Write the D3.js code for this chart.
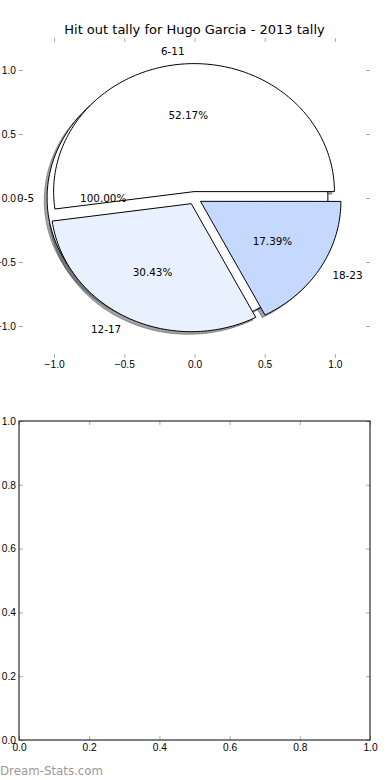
<!DOCTYPE html>
<html>
<head>
<meta charset="utf-8">
<script src="https://cdn.jsdelivr.net/npm/d3@7"></script>
<style>
  body { margin: 0; background: #fff; }
  svg { display: block; font-family: "DejaVu Sans", sans-serif; }
  .tick line { stroke: #aaa; }
  .tick text { font-size: 10.2px; fill: #000; }
</style>
</head>
<body>
<div id="chart"></div>
<script>
const title = "Hit out tally for Hugo Garcia - 2013 tally";
const sliceLabels = ["0-5", "6-11", "12-17", "18-23"];
const slicePcts = [100.0, 52.17, 30.43, 17.39];
const sliceColors = ["#ffffff", "#ffffff", "#eaf1fe", "#c5d8fe"];
const pieTicks = [-1.0, -0.5, 0.0, 0.5, 1.0];
const emptyTicks = [0.0, 0.2, 0.4, 0.6, 0.8, 1.0];

const width = 390;
const height = 780;
const explode = 0.05;

const svg = d3
  .select("#chart")
  .append("svg")
  .attr("width", width)
  .attr("height", height);

// ---- top axes: the pie
const x = d3.scaleLinear().domain([-1.25, 1.25]).range([19, 370]);
const y = d3.scaleLinear().domain([-1.25, 1.25]).range([358, 38]);

svg
  .append("text")
  .attr("x", (19 + 370) / 2)
  .attr("y", 34)
  .attr("text-anchor", "middle")
  .style("font-size", "13px")
  .text(title);

const fmt = d3.format(".1f");
const addAxis = (axis, tx, ty) => {
  const g = svg
    .append("g")
    .attr("transform", `translate(${tx},${ty})`)
    .call(axis);
  g.select(".domain").remove();
  return g;
};
addAxis(d3.axisBottom(x).tickValues(pieTicks).tickFormat(fmt).tickSizeInner(-4).tickSizeOuter(0).tickPadding(3), 0, 358);
addAxis(d3.axisTop(x).tickValues(pieTicks).tickFormat("").tickSizeInner(-4).tickSizeOuter(0), 0, 38);
addAxis(d3.axisLeft(y).tickValues(pieTicks).tickFormat(fmt).tickSizeInner(-4).tickSizeOuter(0).tickPadding(3), 19, 0);
addAxis(d3.axisRight(y).tickValues(pieTicks).tickFormat("").tickSizeInner(-4).tickSizeOuter(0), 370, 0);

const line = d3
  .line()
  .x((d) => x(d[0]))
  .y((d) => y(d[1]));

let cum = 0;
const slices = sliceLabels.map((label, i) => {
  const t1 = cum * 2 * Math.PI;
  cum += slicePcts[i] / 100;
  const t2 = cum * 2 * Math.PI;
  const mid = (t1 + t2) / 2;
  const cx = explode * Math.cos(mid);
  const cy = explode * Math.sin(mid);
  const full = t2 - t1 >= 2 * Math.PI - 1e-9;
  const pts = [];
  const n = Math.max(4, Math.ceil(((t2 - t1) / (2 * Math.PI)) * 240));
  for (let k = 0; k <= n; k++) {
    const t = t1 + ((t2 - t1) * k) / n;
    pts.push([cx + Math.cos(t), cy + Math.sin(t)]);
  }
  if (!full) {
    pts.unshift([cx, cy]);
  }
  return { label, pct: slicePcts[i], color: sliceColors[i], mid, cx, cy, pts };
});

// shadows go under every wedge
const shadowRgb = (c) => {
  const r = d3.rgb(c);
  return `rgba(${Math.round(r.r * 0.3)},${Math.round(r.g * 0.3)},${Math.round(r.b * 0.3)},0.5)`;
};
svg
  .append("g")
  .selectAll("path")
  .data(slices)
  .join("path")
  .attr("d", (d) => line(d.pts.map((p) => [p[0] - 0.02, p[1] - 0.02])) + "Z")
  .attr("fill", (d) => shadowRgb(d.color))
  .attr("stroke", (d) => shadowRgb(d.color))
  .attr("stroke-width", 1);

svg
  .append("g")
  .selectAll("path")
  .data(slices)
  .join("path")
  .attr("d", (d) => line(d.pts) + "Z")
  .attr("fill", (d) => d.color)
  .attr("stroke", "#000")
  .attr("stroke-width", 1)
  .attr("stroke-linejoin", "miter");

const texts = svg.append("g").style("font-size", "10.4px");
slices.forEach((d) => {
  const lx = d.cx + 1.1 * Math.cos(d.mid);
  const ly = d.cy + 1.1 * Math.sin(d.mid);
  texts
    .append("text")
    .attr("x", x(lx) + (lx < 0 ? 1 : 0))
    .attr("y", y(ly))
    .attr("dy", "0.4em")
    .attr("text-anchor", lx < 0 ? "end" : "start")
    .text(d.label);
  texts
    .append("text")
    .attr("x", x(d.cx + 0.6 * Math.cos(d.mid)))
    .attr("y", y(d.cy + 0.6 * Math.sin(d.mid)))
    .attr("dy", "0.4em")
    .attr("text-anchor", "middle")
    .text(d.pct.toFixed(2) + "%");
});

// ---- bottom axes: empty
const x2 = d3.scaleLinear().domain([0, 1]).range([19, 370]);
const y2 = d3.scaleLinear().domain([0, 1]).range([740, 421]);

addAxis(d3.axisBottom(x2).tickValues(emptyTicks).tickFormat(fmt).tickSizeInner(-4).tickSizeOuter(0).tickPadding(4), 0, 740);
addAxis(d3.axisTop(x2).tickValues(emptyTicks).tickFormat("").tickSizeInner(-4).tickSizeOuter(0), 0, 421);
addAxis(d3.axisLeft(y2).tickValues(emptyTicks).tickFormat(fmt).tickSizeInner(-4).tickSizeOuter(0).tickPadding(3), 19, 0);
addAxis(d3.axisRight(y2).tickValues(emptyTicks).tickFormat("").tickSizeInner(-4).tickSizeOuter(0), 370, 0);

svg
  .append("rect")
  .attr("x", x2(0))
  .attr("y", y2(1))
  .attr("width", x2(1) - x2(0))
  .attr("height", y2(0) - y2(1))
  .attr("fill", "none")
  .attr("stroke", "#000")
  .attr("stroke-width", 1);

svg
  .append("text")
  .attr("x", 0)
  .attr("y", 775)
  .style("font-size", "11.8px")
  .attr("fill", "#999")
  .text("Dream-Stats.com");
</script>
</body>
</html>
